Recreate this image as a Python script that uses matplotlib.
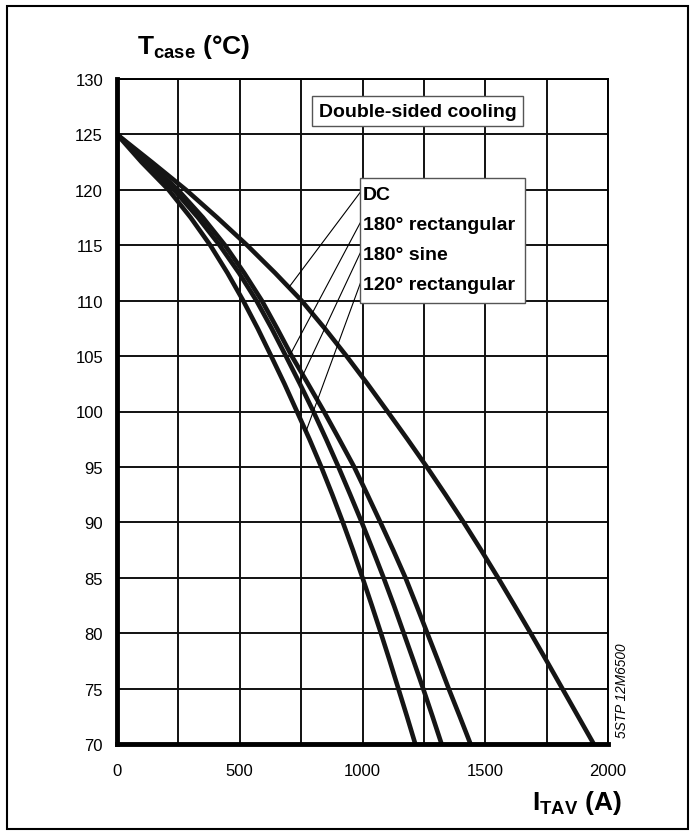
import matplotlib
matplotlib.use("Agg")
import matplotlib.pyplot as plt
import numpy as np
from matplotlib.patches import Rectangle

plt.rcParams['font.family'] = ['Liberation Sans', 'DejaVu Sans']
plt.rcParams['mathtext.fontset'] = 'custom'
plt.rcParams['mathtext.rm'] = 'Liberation Sans'
plt.rcParams['mathtext.bf'] = 'Liberation Sans:bold'

# case temperature (deg C) vs. average on-state current (A), one curve per waveform
temps = [125, 122.5, 120, 117.5, 115, 112.5, 110, 107.5, 105, 102.5, 100,
         97.5, 95, 92.5, 90, 87.5, 85, 82.5, 80, 77.5, 75, 72.5, 70]

dc_i = [0, 142, 281, 408, 530, 644, 752, 846, 935, 1020, 1102,
        1183, 1262, 1338, 1412, 1483, 1552, 1619, 1685, 1750, 1814, 1878, 1942]
rect180_i = [0, 128, 248, 350, 440, 518, 590, 652, 712, 778, 843,
             905, 966, 1020, 1073, 1125, 1175, 1220, 1264, 1308, 1351, 1396, 1440]
sine180_i = [0, 120, 232, 330, 418, 497, 568, 630, 688, 745, 800,
             852, 902, 950, 997, 1042, 1086, 1128, 1168, 1208, 1247, 1285, 1322]
rect120_i = [0, 100, 210, 300, 380, 450, 514, 573, 628, 682, 733,
             784, 832, 877, 920, 961, 1000, 1038, 1075, 1111, 1146, 1181, 1215]

labels = ['DC', '180° rectangular', '180° sine', '120° rectangular']
# temperature where each leader line touches its curve
leader_t = [111.2, 105.2, 102.6, 98.2]

fig = plt.figure(figsize=(6.95, 8.37), dpi=100)
fig.patches.append(Rectangle((7 / 695, 7 / 837), 681 / 695, 823 / 837,
                             transform=fig.transFigure, fill=False,
                             edgecolor='black', linewidth=1.5))

ax = fig.add_axes([117 / 695, 92 / 837, 491 / 695, 665 / 837])
ax.set_xlim(0, 2000)
ax.set_ylim(70, 130)
ax.set_xticks(np.arange(0, 2001, 500))
ax.set_xticks(np.arange(0, 2001, 250), minor=True)
ax.set_yticks(np.arange(70, 131, 5))
ax.grid(True, which='both', color='#111111', linewidth=1.4)
ax.tick_params(which='both', length=0, labelsize=12, colors='black')
ax.tick_params(axis='x', pad=14)
ax.tick_params(axis='y', pad=10)
for s in ['top', 'right']:
    ax.spines[s].set_linewidth(1.4)
for s in ['left', 'bottom']:
    ax.spines[s].set_linewidth(3.5)
    ax.spines[s].set_zorder(5)

curves = [dc_i, rect180_i, sine180_i, rect120_i]
for ci in curves:
    ax.plot(ci, temps, color='#151515', linewidth=3.3, solid_capstyle='butt',
            solid_joinstyle='round', zorder=4)

# waveform label box with leader lines
box_x0, box_x1, box_y0, box_y1 = 990, 1660, 109.8, 121.1
ax.add_patch(Rectangle((box_x0, box_y0), box_x1 - box_x0, box_y1 - box_y0,
                       facecolor='white', edgecolor='#555555', linewidth=1.0,
                       zorder=6))
row_t = [119.6, 116.9, 114.2, 111.5]
for ci, lab, ty, lt in zip(curves, labels, row_t, leader_t):
    ax.text(box_x0 + 12, ty, lab, fontsize=14, fontweight='bold',
            va='center', ha='left', zorder=7)
    li = np.interp(lt, temps[::-1], ci[::-1])
    ax.plot([box_x0 + 5, li], [ty + 0.3, lt], color='black', linewidth=0.8,
            zorder=5)

ax.text(1225, 127.1, 'Double-sided cooling', fontsize=14, fontweight='bold',
        ha='center', va='center', zorder=7,
        bbox=dict(boxstyle='square,pad=0.35', facecolor='white',
                  edgecolor='#555555', linewidth=1.0))

fig.text(137 / 695, 1 - 47 / 837, r'$\mathbf{T}_{\mathbf{case}}$ (°C)',
         fontsize=19, fontweight='bold', ha='left', va='center')
fig.text(622 / 695, 1 - 803 / 837, r'$\mathbf{I}_{\mathbf{TAV}}$ (A)',
         fontsize=19, fontweight='bold', ha='right', va='center')
fig.text(622 / 695, 1 - 691 / 837, '5STP 12M6500', fontsize=9.8,
         style='italic', rotation=90, ha='center', va='center')

fig.savefig('out.png', dpi=100)
